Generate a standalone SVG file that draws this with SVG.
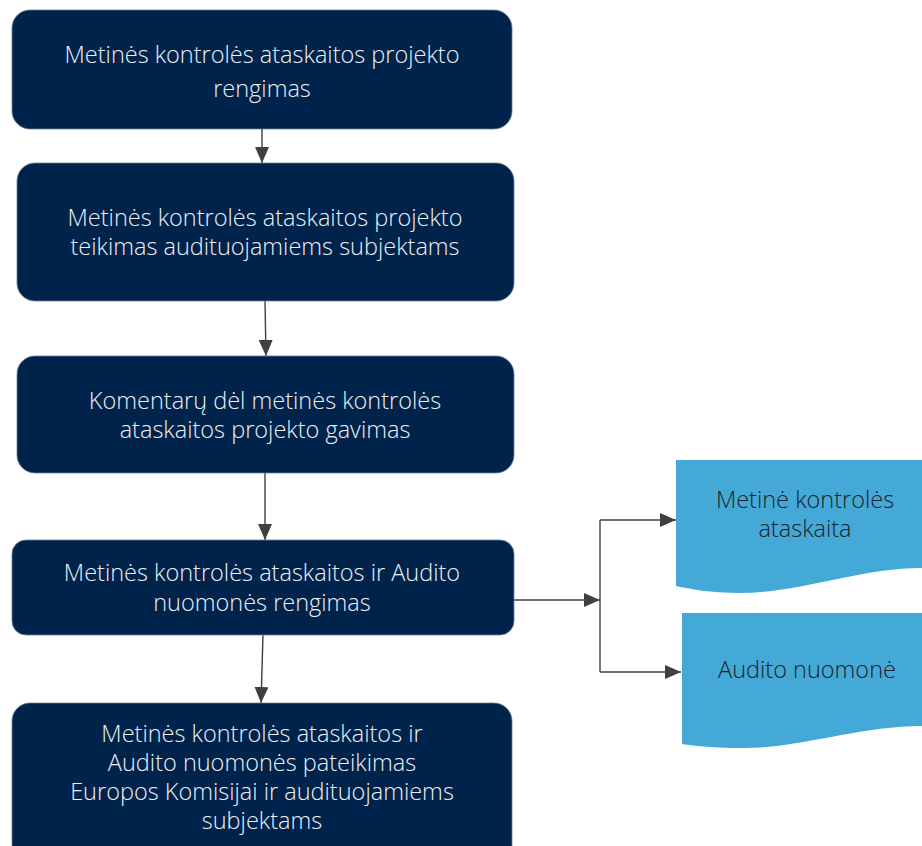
<svg xmlns="http://www.w3.org/2000/svg" width="922" height="846" viewBox="0 0 922 846">
<defs>
<style>
.box{fill:#00234b;stroke:#6a7f95;stroke-width:0.8}
.doc{fill:#45a9d8}
.wt{fill:#eef0f4;font-family:"Open Sans","Liberation Sans",sans-serif;font-size:23.5px;text-anchor:middle;font-weight:300}
.dt{fill:#1a1f2a;font-family:"Open Sans","Liberation Sans",sans-serif;font-size:23.5px;text-anchor:middle;font-weight:300}
.ln{fill:none;stroke:#404040;stroke-width:1.4}
</style>
<marker id="ah" viewBox="0 0 16 14" refX="16" refY="7" markerWidth="16" markerHeight="14" markerUnits="userSpaceOnUse" orient="auto">
<path d="M0,0 L16,7 L0,14 Z" fill="#404040"/>
</marker>
</defs>
<rect width="922" height="846" fill="#ffffff"/>
<g id="connectors">
<path class="ln" d="M262,129 L262,163" marker-end="url(#ah)"/>
<path class="ln" d="M265,301 L266,356" marker-end="url(#ah)"/>
<path class="ln" d="M265,473 L265,540" marker-end="url(#ah)"/>
<path class="ln" d="M263,635 L261,703" marker-end="url(#ah)"/>
<path class="ln" d="M514,600 L600,600" marker-end="url(#ah)"/>
<path class="ln" d="M600,520 L600,672"/>
<path class="ln" d="M600,520 L676,520" marker-end="url(#ah)"/>
<path class="ln" d="M600,672 L681,672" marker-end="url(#ah)"/>
</g>
<g id="n1">
<rect class="box" x="12" y="10" width="500" height="119" rx="18"/>
<text class="wt" x="262" y="63">Metinės kontrolės ataskaitos projekto</text>
<text class="wt" x="262" y="97">rengimas</text>
</g>
<g id="n2">
<rect class="box" x="17" y="163" width="497" height="138" rx="18"/>
<text class="wt" x="265" y="226">Metinės kontrolės ataskaitos projekto</text>
<text class="wt" x="265" y="255">teikimas audituojamiems subjektams</text>
</g>
<g id="n3">
<rect class="box" x="17" y="356" width="497" height="117" rx="18"/>
<text class="wt" x="265" y="409">Komentarų dėl metinės kontrolės</text>
<text class="wt" x="265" y="438">ataskaitos projekto gavimas</text>
</g>
<g id="n4">
<rect class="box" x="12" y="540" width="502" height="95" rx="14"/>
<text class="wt" x="262" y="581">Metinės kontrolės ataskaitos ir Audito</text>
<text class="wt" x="262" y="611">nuomonės rengimas</text>
</g>
<g id="n5">
<rect class="box" x="12" y="703" width="500" height="160" rx="18"/>
<text class="wt" x="262" y="742">Metinės kontrolės ataskaitos ir</text>
<text class="wt" x="262" y="771">Audito nuomonės pateikimas</text>
<text class="wt" x="262" y="800">Europos Komisijai ir audituojamiems</text>
<text class="wt" x="262" y="829">subjektams</text>
</g>
<g id="d1">
<path class="doc" d="M676,460 L922,460 L922,568 C860,568 800,593 740,593 C710,593 690,589 676,586 Z"/>
<text class="dt" x="805" y="508">Metinė kontrolės</text>
<text class="dt" x="805" y="537">ataskaita</text>
</g>
<g id="d2">
<path class="doc" d="M682,613 L922,613 L922,726 C860,726 800,748 745,748 C715,748 695,746 682,744 Z"/>
<text class="dt" x="807" y="678">Audito nuomonė</text>
</g>
</svg>
